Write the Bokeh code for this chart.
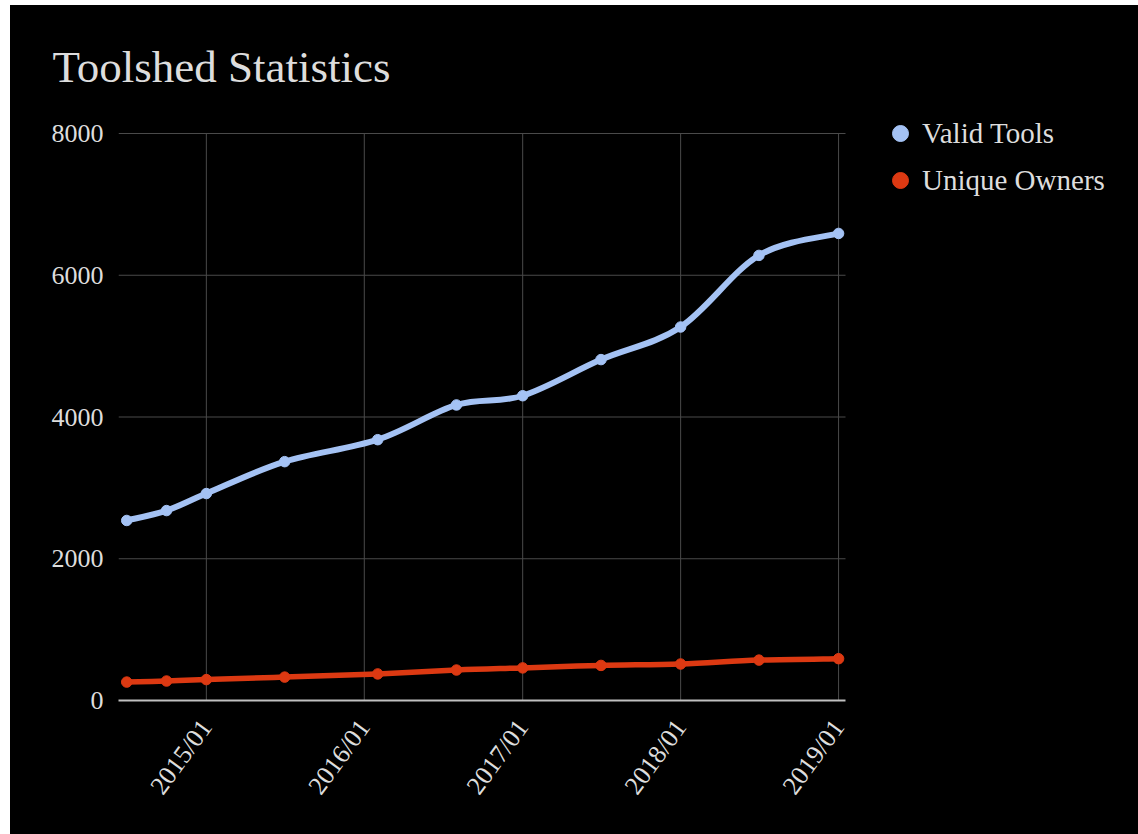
import numpy as np
import pandas as pd
from bokeh.plotting import figure
from bokeh.models import (FixedTicker, DatetimeTickFormatter, Legend, LegendItem,
                          Range1d, ColumnDataSource)
from bokeh.embed import file_html
from bokeh.resources import INLINE

# Snapshot dates and counts
dates = ["2014-07-01", "2014-10-01", "2015-01-01", "2015-07-01", "2016-02-01",
         "2016-08-01", "2017-01-01", "2017-07-01", "2018-01-01", "2018-07-01",
         "2019-01-01"]
valid_tools = [2540, 2680, 2920, 3370, 3680, 4170, 4300, 4810, 5270, 6280, 6590]
unique_owners = [260, 275, 295, 330, 375, 430, 460, 495, 515, 570, 590]

x_tick_dates = ["2015-01-01", "2016-01-01", "2017-01-01", "2018-01-01", "2019-01-01"]
y_ticks = [0, 2000, 4000, 6000, 8000]
x_start, x_end = "2014-06-12", "2019-01-17"

BLUE = "#a4c2f4"
RED = "#dc3912"
TEXT = "#dddddd"
GRID = "#4a4a4a"
FONT = "Liberation Serif"

# Layout (pixels inside the figure). The frame runs to the right edge so the
# legend can sit beside the chart area; lines and axis are bounded to it.
W, H = 1128, 829
BORDER_LEFT, BORDER_BOTTOM = 108, 134
CHART_RIGHT = 835       # where x_end lands
AXIS_TOP = 128          # where the top y tick sits
FRAME_TOP = 108
FRAME_BOTTOM = H - BORDER_BOTTOM
y_top = y_ticks[-1] * (FRAME_BOTTOM - FRAME_TOP) / (FRAME_BOTTOM - AXIS_TOP)


def to_ms(values):
    return pd.to_datetime(values).asi8 / 1e6


def smooth_segments(xs, ys):
    """Catmull-Rom style cubic Bezier segments through the points."""
    x = np.asarray(xs, float)
    y = np.asarray(ys, float)
    n = len(x)
    xp = np.concatenate([[x[0]], x, [x[-1]]])
    yp = np.concatenate([[y[0]], y, [y[-1]]])
    return dict(
        x0=x[:-1], y0=y[:-1], x1=x[1:], y1=y[1:],
        cx0=xp[1:n] + (xp[2:n + 1] - xp[0:n - 1]) / 6,
        cy0=yp[1:n] + (yp[2:n + 1] - yp[0:n - 1]) / 6,
        cx1=xp[2:n + 1] - (xp[3:n + 2] - xp[1:n]) / 6,
        cy1=yp[2:n + 1] - (yp[3:n + 2] - yp[1:n]) / 6,
    )


x_ms = to_ms(dates)
x_tick_ms = to_ms(x_tick_dates)
x0_ms, x1_ms = to_ms([x_start, x_end])
x_view_end = x0_ms + (x1_ms - x0_ms) * (W - BORDER_LEFT) / (CHART_RIGHT - BORDER_LEFT)

p = figure(
    width=W, height=H,
    x_axis_type="datetime",
    x_range=Range1d(start=x0_ms, end=x_view_end),
    y_range=Range1d(start=0, end=y_top),
    output_backend="svg", toolbar_location=None,
    min_border_left=BORDER_LEFT, min_border_right=0,
    min_border_top=FRAME_TOP, min_border_bottom=BORDER_BOTTOM,
    background_fill_color="black", border_fill_color="black",
)
p.margin = (5, 0, 0, 10)
p.styles = {"background-color": "#000000"}
p.outline_line_color = None

# Title
p.title.text = "Toolshed Statistics"
p.title.text_font = FONT
p.title.text_font_size = "45px"
p.title.text_font_style = "normal"
p.title.text_color = TEXT
p.title.align = "left"
p.title.offset = -66
p.title.standoff = 43

# Axes
p.xaxis.ticker = FixedTicker(ticks=list(x_tick_ms))
p.xaxis.bounds = (x0_ms, x1_ms)
p.xaxis.formatter = DatetimeTickFormatter(
    milliseconds="%Y/%m", seconds="%Y/%m", minsec="%Y/%m", minutes="%Y/%m",
    hourmin="%Y/%m", hours="%Y/%m", days="%Y/%m", months="%Y/%m", years="%Y/%m")
p.xaxis.major_label_orientation = 0.94
p.xaxis.axis_line_color = "#c0c0c0"
p.xaxis.axis_line_width = 2
p.xaxis.major_tick_line_color = None
p.xaxis.minor_tick_line_color = None
p.xaxis.major_tick_out = 0
p.xaxis.major_tick_in = 0
p.xaxis.major_label_standoff = 22

p.yaxis.ticker = FixedTicker(ticks=y_ticks)
p.yaxis.axis_line_color = None
p.yaxis.major_tick_line_color = None
p.yaxis.minor_tick_line_color = None
p.yaxis.major_tick_out = 0
p.yaxis.major_tick_in = 0
p.yaxis.major_label_standoff = 15

for ax in (p.xaxis, p.yaxis):
    ax.major_label_text_font = FONT
    ax.major_label_text_font_size = "26px"
    ax.major_label_text_color = TEXT

# Gridlines limited to the chart area
for g in (p.xgrid, p.ygrid):
    g.grid_line_color = None
    g.visible = False
p.segment(x0=x_tick_ms, y0=y_ticks[0], x1=x_tick_ms, y1=y_ticks[-1],
          line_color=GRID, line_width=1)
p.segment(x0=x0_ms, y0=y_ticks[1:], x1=x1_ms, y1=y_ticks[1:],
          line_color=GRID, line_width=1)

# Series: smooth curves plus point markers
blue_src = ColumnDataSource(smooth_segments(x_ms, valid_tools))
red_src = ColumnDataSource(smooth_segments(x_ms, unique_owners))

p.bezier(x0="x0", y0="y0", x1="x1", y1="y1", cx0="cx0", cy0="cy0", cx1="cx1", cy1="cy1",
         source=red_src, line_color=RED, line_width=5.5, line_cap="round")
red_pts = p.scatter(x_ms, unique_owners, size=10.5, color=RED)

p.bezier(x0="x0", y0="y0", x1="x1", y1="y1", cx0="cx0", cy0="cy0", cx1="cx1", cy1="cy1",
         source=blue_src, line_color=BLUE, line_width=6, line_cap="round")
blue_pts = p.scatter(x_ms, valid_tools, size=10.5, color=BLUE)

legend = Legend(
    items=[LegendItem(label="Valid Tools", renderers=[blue_pts]),
           LegendItem(label="Unique Owners", renderers=[red_pts])],
    location=(762, 500), margin=0, padding=0, spacing=7,
    glyph_width=40, glyph_height=40, label_standoff=2,
    label_text_font=FONT, label_text_font_size="29px", label_text_color=TEXT,
    background_fill_alpha=0, border_line_color=None,
)
p.add_layout(legend)

open("out.html", "w").write(file_html(p, INLINE))
